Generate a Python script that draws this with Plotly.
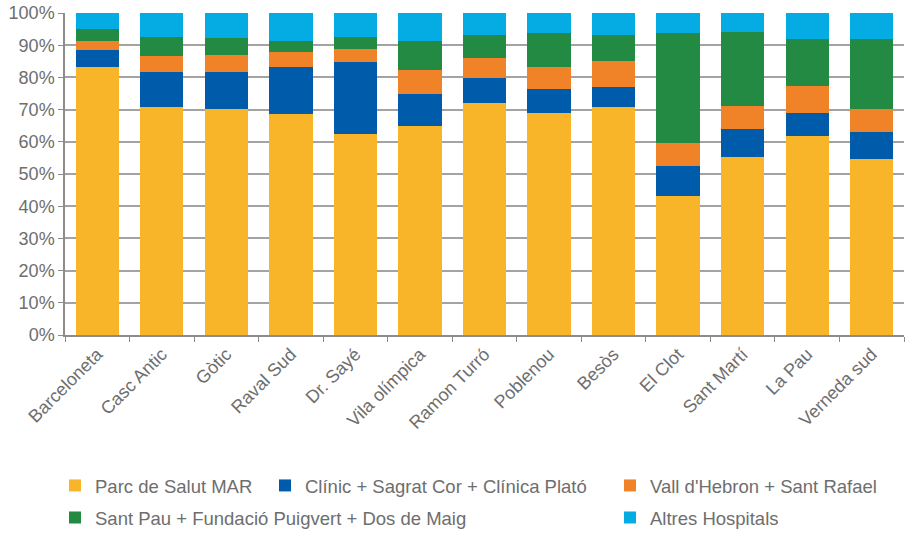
import plotly.graph_objects as go

# Àrees bàsiques de salut
categories = ["Barceloneta", "Casc Antic", "Gòtic", "Raval Sud", "Dr. Sayé",
              "Vila olímpica", "Ramon Turró", "Poblenou", "Besòs", "El Clot",
              "Sant Martí", "La Pau", "Verneda sud"]

# Percentatges per hospital (llegits del gràfic)
parc_salut_mar = [83.2, 70.7, 70.2, 68.7, 62.5, 65.0, 72.1, 69.1, 70.7, 43.3, 55.3, 61.7, 54.8]
clinic_sagrat = [5.2, 11.1, 11.6, 14.4, 22.2, 9.9, 7.6, 7.3, 6.2, 9.1, 8.6, 7.1, 8.2]
vall_hebron = [2.9, 4.7, 5.2, 4.9, 4.2, 7.3, 6.3, 6.8, 8.3, 7.2, 7.3, 8.6, 7.3]
sant_pau = [3.8, 6.2, 5.1, 3.2, 3.8, 9.0, 7.1, 10.5, 7.9, 34.1, 23.0, 14.4, 21.5]
altres = [4.9, 7.3, 7.9, 8.8, 7.3, 8.8, 6.9, 6.3, 6.9, 6.3, 5.8, 8.2, 8.2]

series = [
    ("Parc de Salut MAR", parc_salut_mar, "#F9B52A", "legend"),
    ("Clínic + Sagrat Cor + Clínica Plató", clinic_sagrat, "#005BAA", "legend2"),
    ("Vall d'Hebron + Sant Rafael", vall_hebron, "#F08227", "legend3"),
    ("Sant Pau + Fundació Puigvert + Dos de Maig", sant_pau, "#238A43", "legend"),
    ("Altres Hospitals", altres, "#05ACE3", "legend3"),
]

FONT = "Liberation Sans, Arial, sans-serif"
GREY = "#6e6e6e"
W, H = 905, 533

fig = go.Figure()
for i, (name, vals, color, leg) in enumerate(series):
    fig.add_trace(go.Bar(
        x=categories, y=vals, name=name,
        marker=dict(color=color, line=dict(width=0)),
        legend=leg, legendgroup=f"g{i}",
    ))

legend_common = dict(
    orientation="v", xref="container", yref="container",
    yanchor="top", xanchor="left", y=0.124,
    font=dict(family=FONT, size=18.5, color=GREY),
    bgcolor="rgba(0,0,0,0)", traceorder="grouped", tracegroupgap=5,
)

fig.update_layout(
    width=W, height=H,
    barmode="stack", bargap=0.33,
    plot_bgcolor="white", paper_bgcolor="white",
    margin=dict(l=65, r=1, t=13, b=198, autoexpand=False),
    font=dict(family=FONT, size=18, color=GREY),
    legend=dict(x=55 / W, **legend_common),
    legend2=dict(x=265 / W, **legend_common),
    legend3=dict(x=610 / W, **legend_common),
    xaxis=dict(
        tickangle=-45, ticks="outside", tickson="boundaries", ticklen=5,
        tickcolor="#8c8c8c", showline=True, linecolor="#8c8c8c", linewidth=1.5,
        showgrid=False, tickfont=dict(size=18, color=GREY), automargin=False,
    ),
    yaxis=dict(
        range=[0, 100], dtick=10, ticksuffix="%", ticks="outside", ticklen=5,
        tickcolor="#8c8c8c", showline=True, linecolor="#8c8c8c", linewidth=1.5,
        gridcolor="#a3a3a3", gridwidth=1.5, zeroline=False,
        tickfont=dict(size=18, color=GREY), automargin=False,
    ),
)

# sense el marge per defecte del body, la figura omple la finestra
fig.write_html("out.html", config={"displayModeBar": False},
               post_script="document.body.style.margin='0';")
